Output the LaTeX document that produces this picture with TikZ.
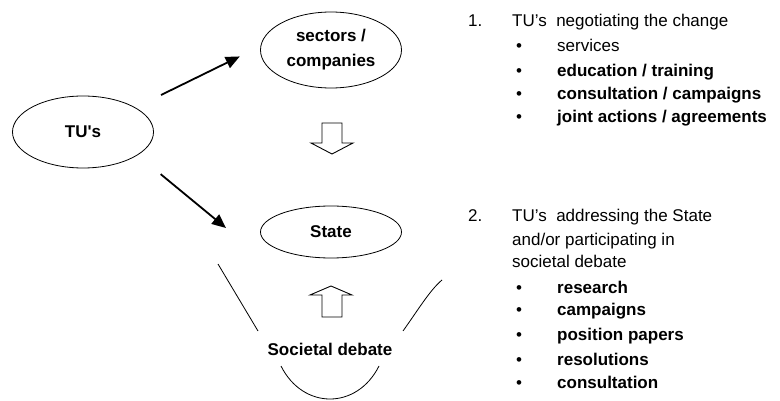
\documentclass[tikz,border=0pt]{standalone}
\usepackage{fontspec}
\setmainfont{Liberation Sans}
\usetikzlibrary{arrows.meta,shapes.geometric}

\newcommand{\figfont}{\fontsize{17}{25}\selectfont}
\tikzstyle{bubble}=[draw,ellipse,line width=0.8pt,inner sep=0pt,font=\figfont\bfseries,align=center]
\tikzstyle{push}=[line width=1.8pt,-{Triangle[length=14pt,width=12pt]}]
\tikzstyle{blockarrow}=[draw,line width=0.9pt,fill=white]
\tikzstyle{rim}=[line width=0.8pt]
\tikzstyle{listtext}=[anchor=base west,inner sep=0pt]
\tikzstyle{listbold}=[anchor=base west,inner sep=0pt,font=\figfont\bfseries]

\begin{document}
\begin{tikzpicture}[x=1pt,y=-1pt,font=\figfont]
\useasboundingbox (0,0) rectangle (780,401);

\node[bubble,minimum width=141pt,minimum height=72pt] (tus) at (83,132) {TU\textquotesingle s};
\node[bubble,minimum width=141pt,minimum height=76pt] (sectors) at (331,50) {sectors /\\companies};
\node[bubble,minimum width=141pt,minimum height=52pt] (state) at (331,232) {State};
\node[font=\figfont\bfseries,inner sep=0pt] (debate) at (330,349) {Societal debate};
\coordinate (statein) at (226,228);

\draw[push,shorten <=28.5pt,shorten >=23pt] (tus.25.8) -- (sectors.177.7);
\draw[push,shorten <=29.8pt] (tus.-23.2) -- (statein);

\draw[blockarrow] (322,123) -- (342,123) -- (342,143) -- (353,143) -- (332,154) -- (311,143) -- (322,143) -- cycle;
\draw[blockarrow] (322,317) -- (342,317) -- (342,295) -- (352,295) -- (331,286) -- (310,295) -- (322,295) -- cycle;

\draw[rim] (218,264) -- (258,331);
\draw[rim] (281,366) .. controls (303,410) and (357,410) .. (379,366);
\draw[rim] (403,331) .. controls (418,310) and (430,290) .. (442,280);

\node[listtext] (num1) at (468,27) {1.};
\node[listtext] (head1) at (512,27) {TU’s\ \ negotiating the change};
\node[listtext] (b11) at (516,52) {\textbullet};
\node[listtext] (i11) at (557,52) {services};
\node[listtext] (b12) at (516,77) {\textbullet};
\node[listbold] (i12) at (557,77) {education / training};
\node[listtext] (b13) at (516,100) {\textbullet};
\node[listbold] (i13) at (557,100) {consultation / campaigns};
\node[listtext] (b14) at (516,123) {\textbullet};
\node[listbold] (i14) at (557,123) {joint actions / agreements};

\node[listtext] (num2) at (468,222) {2.};
\node[listtext] (head2a) at (512,222) {TU’s\ \ addressing the State};
\node[listtext] (head2b) at (512,245) {and/or participating in};
\node[listtext] (head2c) at (512,267) {societal debate};
\node[listtext] (b21) at (516,293) {\textbullet};
\node[listbold] (i21) at (557,293) {research};
\node[listtext] (b22) at (516,315) {\textbullet};
\node[listbold] (i22) at (557,315) {campaigns};
\node[listtext] (b23) at (516,340) {\textbullet};
\node[listbold] (i23) at (557,340) {position papers};
\node[listtext] (b24) at (516,365) {\textbullet};
\node[listbold] (i24) at (557,365) {resolutions};
\node[listtext] (b25) at (516,388) {\textbullet};
\node[listbold] (i25) at (557,388) {consultation};
\end{tikzpicture}
\end{document}
